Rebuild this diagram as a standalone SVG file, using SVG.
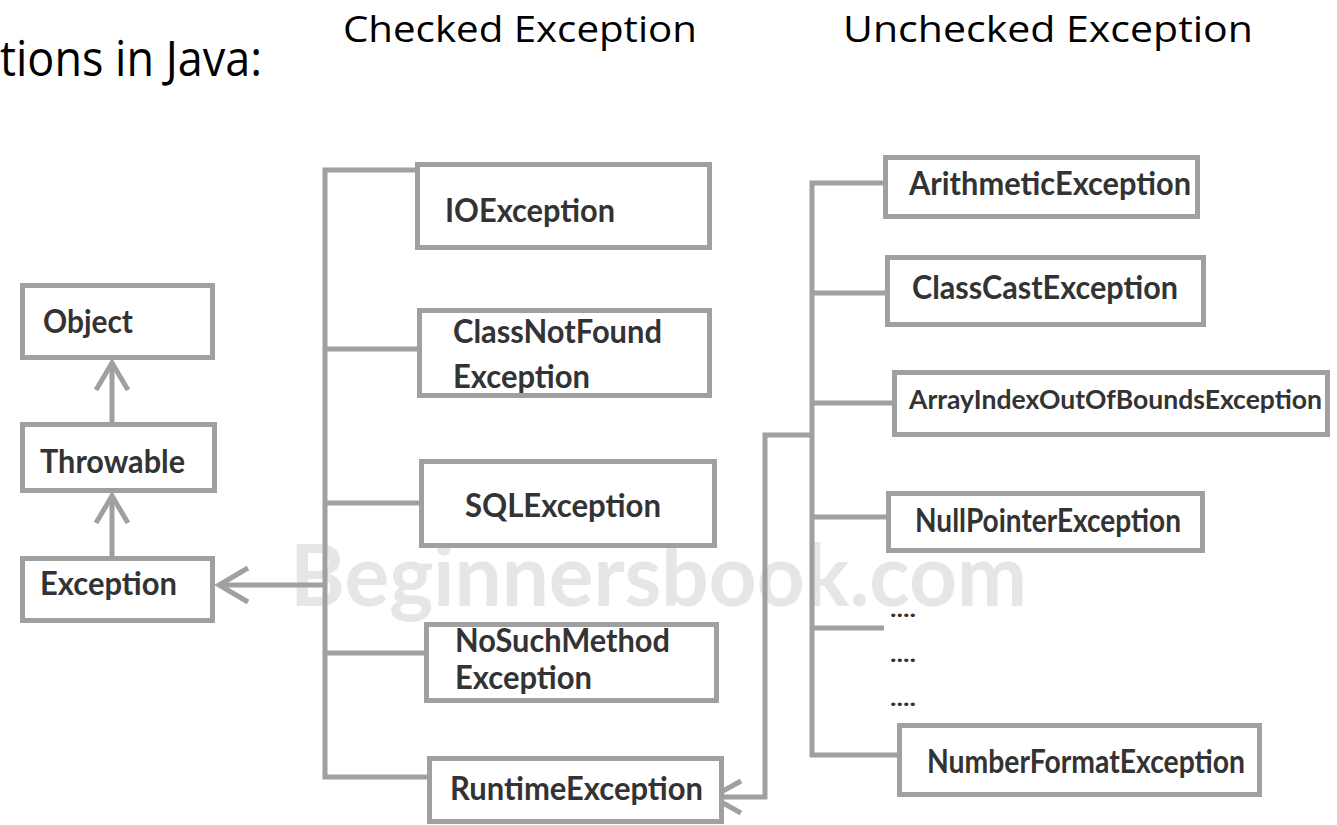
<svg xmlns="http://www.w3.org/2000/svg" width="1337" height="825" viewBox="0 0 1337 825">
  <defs>
    <style>
      .box { fill: #ffffff; stroke: #a0a0a0; stroke-width: 5; }
      .lbl { font-family: Lato, "Liberation Sans", sans-serif; font-weight: 700; font-size: 32px; fill: #333333; }
      .sm { font-size: 27px; }
      .dots { font-family: Lato, "Liberation Sans", sans-serif; font-weight: 700; font-size: 22px; fill: #333333; }
      .conn { fill: none; stroke: #a0a0a0; stroke-width: 5; }
      .head { font-family: "Open Sans", "Liberation Sans", sans-serif; font-size: 36px; fill: #000000; }
      .title { font-family: "Open Sans", "Liberation Sans", sans-serif; font-size: 50px; fill: #000000; }
      .wm { font-family: Lato, "Liberation Sans", sans-serif; font-weight: 700; font-size: 86px; fill: #e6e6e6; }
    </style>
  </defs>
  <rect width="1337" height="825" fill="#ffffff"/>

  <text class="title" x="0" y="76" textLength="262" lengthAdjust="spacingAndGlyphs">tions in Java:</text>
  <text class="head" x="343" y="42" textLength="354" lengthAdjust="spacingAndGlyphs">Checked Exception</text>
  <text class="head" x="843" y="42" textLength="410" lengthAdjust="spacingAndGlyphs">Unchecked Exception</text>

  <text class="wm" x="290" y="606" textLength="737" lengthAdjust="spacingAndGlyphs">Beginnersbook.com</text>

  <g id="connectors">
    <!-- Object <- Throwable -->
    <path class="conn" d="M112 422 V363"/>
    <path class="conn" d="M96 390 L112 363 L128 390"/>
    <!-- Throwable <- Exception -->
    <path class="conn" d="M112 556 V496"/>
    <path class="conn" d="M96 523 L112 496 L128 523"/>
    <!-- Exception <- checked trunk -->
    <path class="conn" d="M325 585 H219"/>
    <path class="conn" d="M248 568 L219 585 L248 602"/>
    <!-- checked trunk -->
    <path class="conn" d="M417 170 H325 V777 H430"/>
    <path class="conn" d="M325 349 H420"/>
    <path class="conn" d="M325 503 H422"/>
    <path class="conn" d="M325 653 H427"/>
    <!-- unchecked trunk -->
    <path class="conn" d="M884 183 H812 V755 H899"/>
    <path class="conn" d="M812 293 H887"/>
    <path class="conn" d="M812 403 H894"/>
    <path class="conn" d="M812 517 H888"/>
    <path class="conn" d="M812 628 H884"/>
    <!-- RuntimeException <- unchecked trunk -->
    <path class="conn" d="M812 435 H765 V797 H712"/>
    <path class="conn" d="M741 781 L712 797 L741 813"/>
  </g>

  <g id="node-object">
    <rect class="box" x="22.5" y="285.5" width="190" height="72"/>
    <text class="lbl" x="43" y="333" textLength="90" lengthAdjust="spacingAndGlyphs">Object</text>
  </g>
  <g id="node-throwable">
    <rect class="box" x="22.5" y="424.5" width="192" height="66"/>
    <text class="lbl" x="40" y="473" textLength="145" lengthAdjust="spacingAndGlyphs">Throwable</text>
  </g>
  <g id="node-exception">
    <rect class="box" x="22.5" y="558.5" width="190" height="62"/>
    <text class="lbl" x="40" y="595" textLength="137" lengthAdjust="spacingAndGlyphs">Exception</text>
  </g>

  <g id="node-ioexception">
    <rect class="box" x="417.5" y="164.5" width="292" height="83"/>
    <text class="lbl" x="445" y="222" textLength="170" lengthAdjust="spacingAndGlyphs">IOException</text>
  </g>
  <g id="node-classnotfound">
    <rect class="box" x="419.5" y="310.5" width="290" height="85"/>
    <text class="lbl" x="453" y="343" textLength="209" lengthAdjust="spacingAndGlyphs">ClassNotFound</text>
    <text class="lbl" x="453" y="388" textLength="137" lengthAdjust="spacingAndGlyphs">Exception</text>
  </g>
  <g id="node-sqlexception">
    <rect class="box" x="421.5" y="461.5" width="293" height="84"/>
    <text class="lbl" x="465" y="517" textLength="196" lengthAdjust="spacingAndGlyphs">SQLException</text>
  </g>
  <g id="node-nosuchmethod">
    <rect class="box" x="426.5" y="624.5" width="290" height="76"/>
    <text class="lbl" x="455" y="652" textLength="215" lengthAdjust="spacingAndGlyphs">NoSuchMethod</text>
    <text class="lbl" x="455" y="689" textLength="137" lengthAdjust="spacingAndGlyphs">Exception</text>
  </g>
  <g id="node-runtimeexception">
    <rect class="box" x="429.5" y="758.5" width="292" height="63"/>
    <text class="lbl" x="450" y="800" textLength="253" lengthAdjust="spacingAndGlyphs">RuntimeException</text>
  </g>

  <g id="node-arithmetic">
    <rect class="box" x="885.5" y="157.5" width="312" height="59"/>
    <text class="lbl" x="909" y="195" textLength="282" lengthAdjust="spacingAndGlyphs">ArithmeticException</text>
  </g>
  <g id="node-classcast">
    <rect class="box" x="887.5" y="257.5" width="316" height="67"/>
    <text class="lbl" x="912" y="299" textLength="266" lengthAdjust="spacingAndGlyphs">ClassCastException</text>
  </g>
  <g id="node-arrayindex">
    <rect class="box" x="894.5" y="372.5" width="433" height="62"/>
    <text class="lbl sm" x="909" y="409" textLength="413" lengthAdjust="spacingAndGlyphs">ArrayIndexOutOfBoundsException</text>
  </g>
  <g id="node-nullpointer">
    <rect class="box" x="888.5" y="493.5" width="314" height="57"/>
    <text class="lbl" x="915" y="532" textLength="266" lengthAdjust="spacingAndGlyphs">NullPointerException</text>
  </g>
  <g id="node-dots">
    <text class="dots" x="890" y="617" textLength="26" lengthAdjust="spacingAndGlyphs">....</text>
    <text class="dots" x="890" y="662" textLength="26" lengthAdjust="spacingAndGlyphs">....</text>
    <text class="dots" x="890" y="706" textLength="26" lengthAdjust="spacingAndGlyphs">....</text>
  </g>
  <g id="node-numberformat">
    <rect class="box" x="899.5" y="725.5" width="360" height="69"/>
    <text class="lbl" x="927" y="773" textLength="318" lengthAdjust="spacingAndGlyphs">NumberFormatException</text>
  </g>
</svg>
